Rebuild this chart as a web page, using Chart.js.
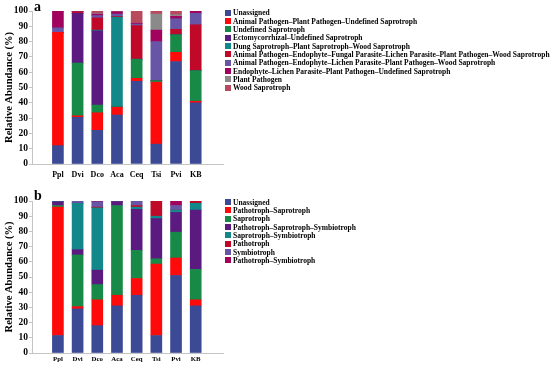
<!DOCTYPE html>
<html>
<head>
<meta charset="utf-8">
<script src="https://cdn.jsdelivr.net/npm/chart.js@4"></script>
<style>
  body { margin: 0; background: #fff; width: 550px; height: 365px; position: relative; overflow: hidden; font-family: 'Liberation Serif', 'Times New Roman', serif; }
  .box { position: absolute; left: 0; width: 230px; }
  .panel { position: absolute; left: 34px; font-weight: bold; font-size: 14px; line-height: 1; }
  .legend { position: absolute; left: 225px; font-weight: bold; font-size: 7.5px; }
  .legend div { height: 8.35px; line-height: 8.35px; white-space: nowrap; }
  .legend span { display: inline-block; width: 6px; height: 6px; margin-right: 2px; vertical-align: -0.5px; }
</style>
</head>
<body>
<div class="box" style="top:0;height:182px"><canvas id="chartA"></canvas></div>
<div class="box" style="top:190px;height:175px"><canvas id="chartB"></canvas></div>
<div class="panel" style="top:0px">a</div>
<div class="panel" style="top:189px">b</div>
<div class="legend" id="legendA" style="top:9.2px"></div>
<div class="legend" id="legendB" style="top:198.5px"></div>
<script>
const sites = ['Ppl', 'Dvi', 'Dco', 'Aca', 'Ceq', 'Tsi', 'Pvi', 'KB'];

// a: FUNGuild guilds (%)
const unassignedA   = [12, 30.5, 22, 32, 54, 13, 67, 40];
const apPpUs        = [74, 1, 11.5, 5, 2, 40.5, 6, 1];
const undefinedSap  = [0, 34.5, 5, 0.5, 12.5, 1, 11.5, 20];
const ectoUs        = [0, 32.5, 48.5, 0, 0, 0, 0, 0];
const dungPlantWood = [0, 0, 0.5, 58.5, 0, 0, 0, 0];
const apEndoFungal  = [0, 1, 8, 0.5, 22, 0, 3.5, 30];
const apEndoLichen  = [3, 0, 1.5, 1.5, 1, 25.5, 7, 7.5];
const endoLichenUs  = [11, 0.5, 1, 1.5, 0.5, 7.5, 1.5, 1.5];
const plantPath     = [0, 0, 0.5, 0, 0, 10.5, 1, 0];
const woodSap       = [0, 0, 1.5, 0.5, 8, 2, 2.5, 0];

// b: trophic modes (%)
const unassignedB   = [11.5, 29, 18, 31, 38, 11.5, 51, 31];
const pathoSapro    = [84.5, 1.5, 17, 7, 11, 47, 11.5, 4];
const sapro         = [1, 34, 10, 59, 18.5, 3.5, 17, 20];
const pathoSaproSym = [2.5, 3.5, 9.5, 2.5, 27, 26.5, 13, 39];
const saproSym      = [0.5, 30.5, 41, 0, 1.5, 1.5, 1.5, 4.5];
const pathotroph    = [0, 0, 0.5, 0, 1, 10, 0, 1.5];
const symbiotroph   = [0, 1.5, 3.5, 0, 3, 0, 3, 0];
const pathoSym      = [0, 0, 0.5, 0.5, 0, 0, 3, 0];

const yTicks = [0, 10, 20, 30, 40, 50, 60, 70, 80, 90, 100];

const seriesA = [
  ['Unassigned', unassignedA, '#3c4a96'],
  ['Animal Pathogen–Plant Pathogen–Undefined Saprotroph', apPpUs, '#ff0a0a'],
  ['Undefined Saprotroph', undefinedSap, '#178a48'],
  ['Ectomycorrhizal–Undefined Saprotroph', ectoUs, '#5b1a80'],
  ['Dung Saprotroph–Plant Saprotroph–Wood Saprotroph', dungPlantWood, '#13888a'],
  ['Animal Pathogen–Endophyte–Fungal Parasite–Lichen Parasite–Plant Pathogen–Wood Saprotroph', apEndoFungal, '#c00828'],
  ['Animal Pathogen–Endophyte–Lichen Parasite–Plant Pathogen–Wood Saprotroph', apEndoLichen, '#6756a6'],
  ['Endophyte–Lichen Parasite–Plant Pathogen–Undefined Saprotroph', endoLichenUs, '#a0025e'],
  ['Plant Pathogen', plantPath, '#8a8a8a'],
  ['Wood Saprotroph', woodSap, '#b84a5e']
];

const seriesB = [
  ['Unassigned', unassignedB, '#3c4a96'],
  ['Pathotroph–Saprotroph', pathoSapro, '#ff0a0a'],
  ['Saprotroph', sapro, '#178a48'],
  ['Pathotroph–Saprotroph–Symbiotroph', pathoSaproSym, '#5b1a80'],
  ['Saprotroph–Symbiotroph', saproSym, '#13888a'],
  ['Pathotroph', pathotroph, '#c00828'],
  ['Symbiotroph', symbiotroph, '#6756a6'],
  ['Pathotroph–Symbiotroph', pathoSym, '#a0025e']
];

const serif = "'Liberation Serif', 'Times New Roman', serif";

function makeChart(id, series, xHeight, xFont, xPad) {
  return new Chart(document.getElementById(id), {
    type: 'bar',
    data: {
      datasets: series.map(s => ({
        label: s[0],
        data: s[1].map((v, i) => ({ x: i, y: v })),
        backgroundColor: s[2],
        barThickness: 11,
        borderWidth: 0
      }))
    },
    options: {
      responsive: true,
      maintainAspectRatio: false,
      animation: false,
      layout: { padding: { top: 11, right: 7, left: 0, bottom: 0 } },
      plugins: { legend: { display: false }, tooltip: { enabled: false } },
      scales: {
        x: {
          type: 'linear',
          stacked: true,
          min: -0.71,
          max: 7.78,
          afterBuildTicks: s => { s.ticks = sites.map((_, i) => ({ value: i })); },
          afterFit: s => { s.height = xHeight; },
          grid: { display: false, drawTicks: false },
          border: { display: true, color: '#c4c4c4', width: 1 },
          ticks: {
            padding: xPad,
            color: '#000',
            autoSkip: false,
            maxRotation: 0,
            font: { family: serif, weight: 'bold', size: xFont },
            callback: v => sites[v]
          }
        },
        y: {
          stacked: true,
          min: 0,
          max: 100,
          afterBuildTicks: s => { s.ticks = yTicks.map(v => ({ value: v })); },
          afterFit: s => { s.width = 32; },
          grid: { drawOnChartArea: false, drawTicks: true, tickLength: 3, color: '#c4c4c4' },
          border: { display: true, color: '#c4c4c4', width: 1 },
          ticks: {
            padding: 1,
            color: '#000',
            font: { family: serif, weight: 'bold', size: 9.5 }
          },
          title: {
            display: true,
            text: 'Relative Abundance (%)',
            color: '#000',
            padding: { top: 2.7, bottom: 0 },
            font: { family: serif, weight: 'bold', size: 10.5 }
          }
        }
      }
    }
  });
}

makeChart('chartA', seriesA, 18, 8, 6.5);
makeChart('chartB', seriesB, 12, 6.8, 2);

function fillLegend(id, series) {
  const el = document.getElementById(id);
  series.forEach(s => {
    const row = document.createElement('div');
    const sw = document.createElement('span');
    sw.style.background = s[2];
    row.appendChild(sw);
    row.appendChild(document.createTextNode(s[0]));
    el.appendChild(row);
  });
}
fillLegend('legendA', seriesA);
fillLegend('legendB', seriesB);
</script>
</body>
</html>
